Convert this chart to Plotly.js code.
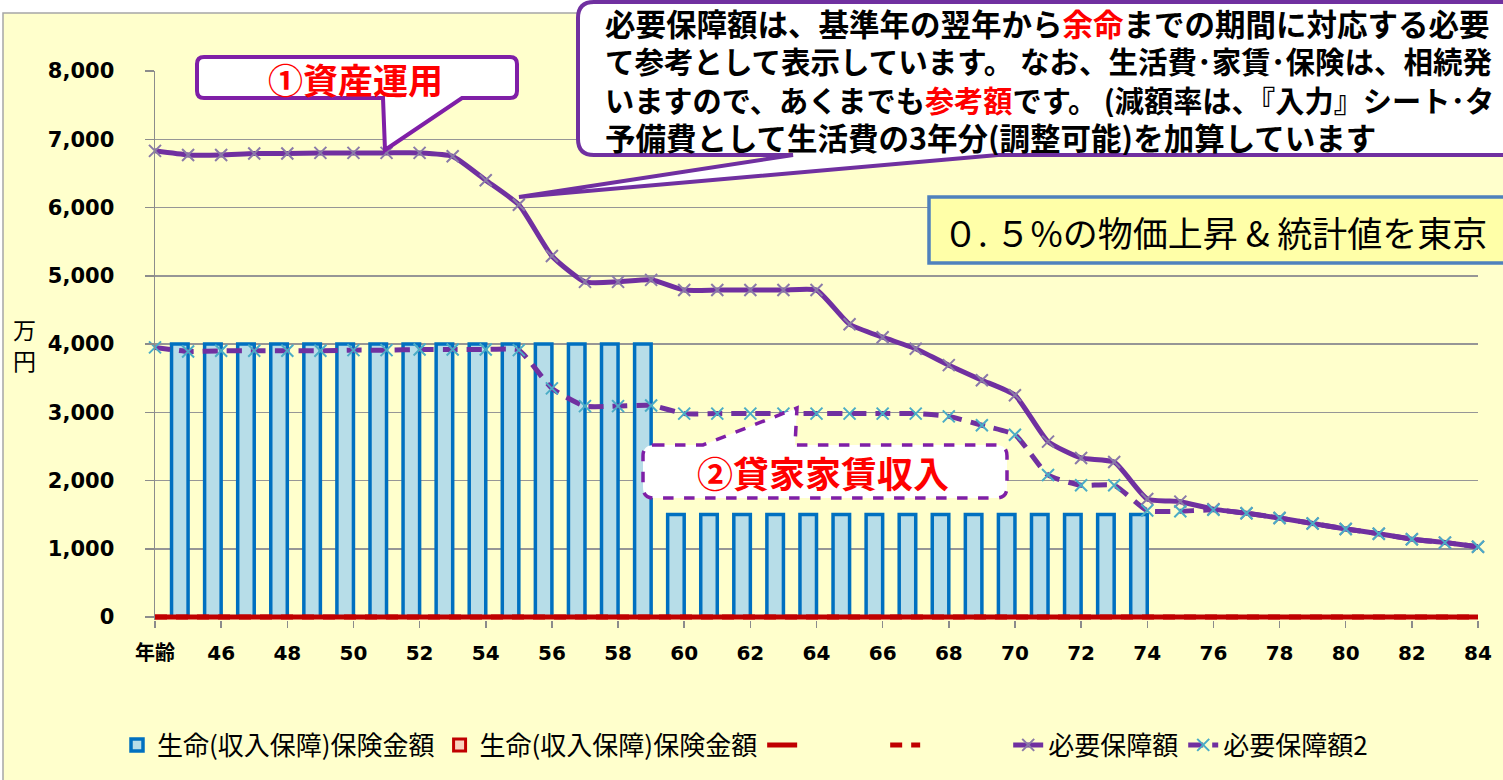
<!DOCTYPE html>
<html>
<head>
<meta charset="utf-8">
<script src="https://cdn.plot.ly/plotly-3.0.1.min.js"></script>
<style>html,body{margin:0;padding:0;background:#fff;}#chart{width:1503px;height:780px;}</style>
</head>
<body>
<div id="chart"></div>
<script>
// ---- data ----
const categories = ["年齢","45","46","47","48","49","50","51","52","53","54","55","56","57","58","59","60","61","62","63","64","65","66","67","68","69","70","71","72","73","74","75","76","77","78","79","80","81","82","83","84"];
const insuranceAmount = [0,4000,4000,4000,4000,4000,4000,4000,4000,4000,4000,4000,4000,4000,4000,4000,1500,1500,1500,1500,1500,1500,1500,1500,1500,1500,1500,1500,1500,1500,1500,0,0,0,0,0,0,0,0,0,0];
const insuranceAmount2 = [0,0,0,0,0,0,0,0,0,0,0,0,0,0,0,0,0,0,0,0,0,0,0,0,0,0,0,0,0,0,0,0,0,0,0,0,0,0,0,0,0];
const baseLine = [0,0,0,0,0,0,0,0,0,0,0,0,0,0,0,0,0,0,0,0,0,0,0,0,0,0,0,0,0,0,0,0,0,0,0,0,0,0,0,0,0];
const baseLine2 = [0,0,0,0,0,0,0,0,0,0,0,0,0,0,0,0,0,0,0,0,0,0,0,0,0,0,0,0,0,0,0,0,0,0,0,0,0,0,0,0,0];
const required = [6830,6770,6770,6790,6790,6800,6800,6800,6800,6750,6400,6040,5290,4910,4910,4940,4790,4790,4790,4790,4790,4290,4100,3930,3690,3470,3250,2570,2330,2270,1730,1690,1580,1520,1450,1370,1290,1220,1140,1090,1030];
const required2 = [3950,3890,3900,3900,3900,3900,3910,3910,3920,3920,3920,3910,3350,3090,3090,3100,2980,2980,2980,2980,2980,2980,2980,2980,2940,2810,2670,2080,1930,1930,1560,1550,1570,1520,1450,1370,1290,1220,1140,1090,1030];
const seriesNames = ["生命(収入保障)保険金額","生命(収入保障)保険金額","\u3000\u3000\u3000","\u3000\u3000\u3000","必要保障額","必要保障額2"];
const yTickVals = [0,1000,2000,3000,4000,5000,6000,7000,8000];
const yTitleChars = ["万", "円"];
const noteLines = [
  '必要保障額は、基準年の翌年から<span style="color:#FF0000">余命</span>までの期間に対応する必要',
  'て参考として表示しています。 なお、生活費･家賃･保険は、相続発',
  'いますので、あくまでも<span style="color:#FF0000">参考額</span>です。 (減額率は、『入力』シート･タ',
  '予備費として生活費の3年分(調整可能)を加算しています'
];

// ---- layout helpers (pixel -> paper) ----
const W = 1503, H = 780, ML = 155, MR = 25, MT = 71, MB = 160;
const PW = W - ML - MR, PH = H - MT - MB;
const X = px => (px - ML) / PW;
const Y = py => (H - MB - py) / PH;
const P = (px, py) => X(px).toFixed(5) + ',' + Y(py).toFixed(5);

function roundRectWedge(x0, y0, x1, y1, r, wedge, side) {
  let d = 'M' + P(x0 + r, y0);
  if (side === 't') {
    d += ' L' + P(wedge[0], y0) + ' L' + P(wedge[1], wedge[2]) + ' L' + P(wedge[3], y0);
  }
  d += ' L' + P(x1 - r, y0) + ' Q' + P(x1, y0) + ' ' + P(x1, y0 + r);
  d += ' L' + P(x1, y1 - r) + ' Q' + P(x1, y1) + ' ' + P(x1 - r, y1);
  if (side === 'b') {
    d += ' L' + P(wedge[3], y1) + ' L' + P(wedge[1], wedge[2]) + ' L' + P(wedge[0], y1);
  }
  d += ' L' + P(x0 + r, y1) + ' Q' + P(x0, y1) + ' ' + P(x0, y1 - r);
  d += ' L' + P(x0, y0 + r) + ' Q' + P(x0, y0) + ' ' + P(x0 + r, y0) + ' Z';
  return d;
}

const CJK = "'Noto Sans CJK JP', 'Noto Sans', sans-serif";
const NUM = "'DejaVu Sans', 'Noto Sans CJK JP', sans-serif";

const traces = [
  {type:'bar', x:categories, y:insuranceAmount, name:seriesNames[0],
   marker:{color:'#B7DDE8', line:{color:'#0070C0', width:3.5}}},
  {type:'bar', x:categories, y:insuranceAmount2, name:seriesNames[1],
   marker:{color:'#F9D2BE', line:{color:'#C00000', width:3}}},
  {type:'scatter', mode:'lines', x:categories, y:baseLine, name:seriesNames[2], cliponaxis:false,
   line:{color:'#C00000', width:5}},
  {type:'scatter', mode:'lines', x:categories, y:baseLine2, name:seriesNames[3], cliponaxis:false,
   line:{color:'#C00000', width:5, dash:'12px,9px'}},
  {type:'scatter', mode:'lines+markers', x:categories, y:required, name:seriesNames[4], cliponaxis:false,
   line:{color:'#7030A0', width:5, shape:'spline', smoothing:0.5},
   marker:{symbol:'x-thin', size:12, line:{color:'#8A7AA8', width:2}}},
  {type:'scatter', mode:'lines+markers', x:categories, y:required2, name:seriesNames[5], cliponaxis:false,
   line:{color:'#7030A0', width:5, dash:'15px,9px', shape:'spline', smoothing:0.5},
   marker:{symbol:'x-thin', size:12, line:{color:'#4BACC6', width:2}}}
];

const noteY = [23, 60, 99, 137];
const noteSize = [30.5, 29.5, 29.2, 30.5];
const noteAnns = noteLines.map((t, i) => ({
  xref: 'paper', yref: 'paper', x: X(604), y: Y(noteY[i]), text: t, showarrow: false, align: 'left',
  xanchor: 'left', yanchor: 'middle', height: 36, borderpad: 0, valign: 'middle',
  font: {family: CJK, size: noteSize[i], color: '#000', weight: 'bold'}
}));
const yTitleY = [329, 360];
const yTitleAnns = yTitleChars.map((t, i) => ({
  xref: 'paper', yref: 'paper', x: X(24), y: Y(yTitleY[i]), text: t, showarrow: false,
  xanchor: 'center', yanchor: 'middle', height: 28, borderpad: 0,
  font: {family: CJK, size: 23, color: '#000'}
}));

const layout = {
  width: W, height: H,
  margin: {l: ML, r: MR, t: MT, b: MB, pad: 0},
  paper_bgcolor: '#FFFFFF',
  plot_bgcolor: 'rgba(0,0,0,0)',
  barmode: 'group', bargap: 0, bargroupgap: 0,
  showlegend: true,
  legend: {orientation: 'h', x: X(117), xanchor: 'left', y: Y(745), yanchor: 'middle',
    font: {family: CJK, size: 26, color: '#000'}, bgcolor: 'rgba(0,0,0,0)', itemwidth: 30,
    traceorder: 'normal', tracegroupgap: 0},
  xaxis: {type: 'category', range: [0, 40], tickmode: 'linear', tick0: 0, dtick: 2,
    ticks: 'outside', ticklen: 7, tickwidth: 1.5, tickcolor: '#8C8C8C',
    showgrid: false, showline: false, zeroline: false, ticklabelstandoff: 8,
    tickfont: {family: NUM, size: 20, color: '#000', weight: 'bold'}},
  yaxis: {range: [-44, 8000], tickmode: 'array', tickvals: yTickVals, tickformat: ',d',
    ticks: 'outside', ticklen: 9, tickwidth: 1.5, tickcolor: '#8C8C8C',
    showgrid: true, gridcolor: '#969696', gridwidth: 1.5,
    showline: true, linecolor: '#8C8C8C', linewidth: 1.5, zeroline: false,
    ticklabelstandoff: 26,
    tickfont: {family: NUM, size: 21, color: '#000', weight: 'bold'}},
  shapes: [
    {type: 'rect', xref: 'paper', yref: 'paper', layer: 'below',
     x0: X(3), x1: X(1520), y0: Y(13), y1: Y(800),
     fillcolor: '#FFFFCC', line: {color: '#A6A6A6', width: 1.5}},
    {type: 'path', xref: 'paper', yref: 'paper', layer: 'above',
     path: roundRectWedge(197, 57, 517, 98, 7, [383, 385, 150, 462], 'b'),
     fillcolor: '#FFFFFF', line: {color: '#7F1FA7', width: 4}},
    {type: 'path', xref: 'paper', yref: 'paper', layer: 'above',
     path: roundRectWedge(643, 445, 1007, 498, 11, [703, 797, 408, 795], 't'),
     fillcolor: '#FFFFFF', line: {color: '#7F1FA7', width: 3.5, dash: 'dash'}},
    {type: 'path', xref: 'paper', yref: 'paper', layer: 'above',
     path: roundRectWedge(578, 2, 1560, 155, 16, [793, 519, 197, 998], 'b'),
     fillcolor: '#FFFFFF', line: {color: '#7030A0', width: 4}},
    {type: 'rect', xref: 'paper', yref: 'paper', layer: 'above',
     x0: X(929), x1: X(1560), y0: Y(197), y1: Y(263),
     fillcolor: '#FFFFA8', line: {color: '#4F81BD', width: 3.5}}
  ],
  annotations: [
    ...yTitleAnns,
    {xref: 'paper', yref: 'paper', x: X(355), y: Y(78), text: '①資産運用', showarrow: false,
     xanchor: 'center', yanchor: 'middle', font: {family: CJK, size: 35, color: '#FF0000', weight: 'bold'}},
    {xref: 'paper', yref: 'paper', x: X(823), y: Y(472), text: '②貸家家賃収入', showarrow: false,
     xanchor: 'center', yanchor: 'middle', font: {family: CJK, size: 36, color: '#FF0000', weight: 'bold'}},
    ...noteAnns,
    {xref: 'paper', yref: 'paper', x: X(941), y: Y(231), text: '０. ５%の物価上昇 & 統計値を東京', showarrow: false,
     xanchor: 'left', yanchor: 'middle', font: {family: CJK, size: 35, color: '#000'}}
  ]
};

Plotly.newPlot('chart', traces, layout, {displayModeBar: false, staticPlot: true});
</script>
</body>
</html>
